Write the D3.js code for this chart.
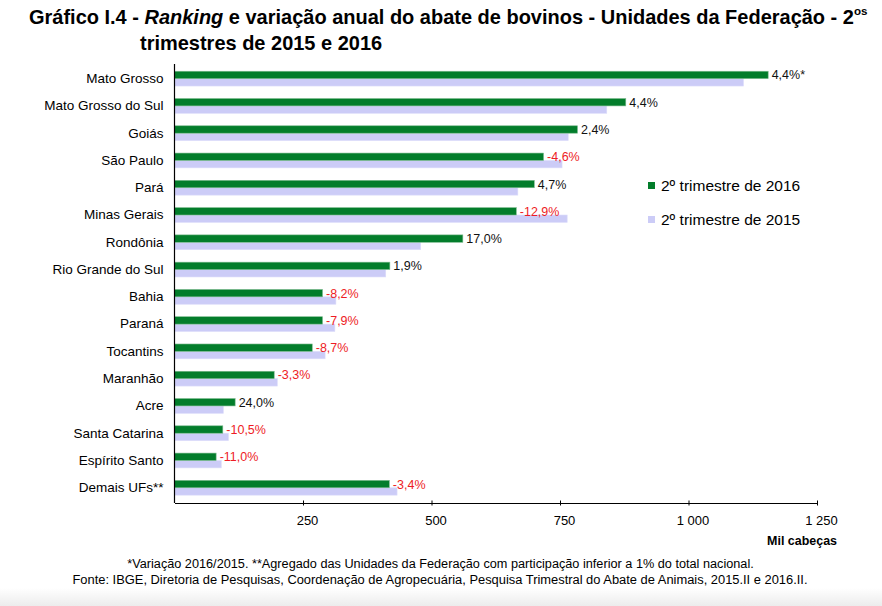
<!DOCTYPE html>
<html><head><meta charset="utf-8">
<script src="https://cdn.jsdelivr.net/npm/d3@7"></script>
<style>
html,body{margin:0;padding:0;background:#fff;}
svg{display:block;}
</style></head>
<body>
<svg id="chart" width="882" height="606"></svg>
<script>
const categories = ["Mato Grosso","Mato Grosso do Sul","Goiás","São Paulo","Pará","Minas Gerais","Rondônia","Rio Grande do Sul","Bahia","Paraná","Tocantins","Maranhão","Acre","Santa Catarina","Espírito Santo","Demais UFs**"];
const values2016 = [1155, 878, 784, 718, 700, 665, 561, 419, 288, 288, 268, 194, 118, 94, 81, 418];
const values2015 = [1107, 841, 766, 754, 668, 764, 479, 411, 314, 312, 293, 200, 95, 105, 91, 433];
const variationLabels = ["4,4%*","4,4%","2,4%","-4,6%","4,7%","-12,9%","17,0%","1,9%","-8,2%","-7,9%","-8,7%","-3,3%","24,0%","-10,5%","-11,0%","-3,4%"];
const tickValues = [250, 500, 750, 1000, 1250];
const tickLabels = ["250", "500", "750", "1 000", "1 250"];
const seriesNames = ["2º trimestre de 2016", "2º trimestre de 2015"];

const GREEN = "#037d2b", LAV = "#ccccf7", RED = "#ee1c25";
const SANS = "'Liberation Sans', Arial, Helvetica, sans-serif";

const svg = d3.select("#chart");

// bottom shade
const defs = svg.append("defs");
const grad = defs.append("linearGradient").attr("id","shade").attr("x1",0).attr("x2",0).attr("y1",0).attr("y2",1);
grad.append("stop").attr("offset","0").attr("stop-color","#ffffff");
grad.append("stop").attr("offset","1").attr("stop-color","#ececec");
svg.append("rect").attr("x",0).attr("y",588).attr("width",882).attr("height",18).attr("fill","url(#shade)");

// text condensed horizontally to a target width
function narrowText(x, y, anchor, size, weight, target){
  const gg = svg.append("g").attr("transform", `translate(${x},${y})`);
  const t = gg.append("text").attr("x",0).attr("y",0).attr("text-anchor", anchor)
    .attr("font-family", SANS).attr("font-weight", weight).attr("font-size", size).attr("fill","#000");
  return {g: gg, t, fit(){ const w = t.node().getBBox().width; const s = target / w;
    gg.attr("transform", `translate(${x},${y}) scale(${s},1)`); return s; }};
}

// Title
const T1 = narrowText(29, 24, "start", 19.5, "bold", 839);
T1.t.append("tspan").text("Gráfico I.4 - ");
T1.t.append("tspan").attr("font-style","italic").text("Ranking");
T1.t.append("tspan").text(" e variação anual do abate de bovinos - Unidades da Federação - 2");
T1.t.append("tspan").attr("font-size","0.58em").attr("dy","-0.8em").text("os");
const sTitle = T1.fit();
svg.append("g").attr("transform", `translate(140,50) scale(${sTitle},1)`)
  .append("text").attr("font-family", SANS).attr("font-weight","bold").attr("font-size", 19.5).attr("fill","#000")
  .text("trimestres de 2015 e 2016");

// Scales
const x = d3.scaleLinear().domain([0, 1250]).range([174.5, 817]);
const y = d3.scaleBand().domain(categories).range([65, 501.4]).paddingInner(0).paddingOuter(0);
const barH = 7.4;
const rows = categories.map((c, i) => ({c, v16: values2016[i], v15: values2015[i], lab: variationLabels[i]}));

// Bars
const g = svg.append("g");
g.selectAll("rect.b15").data(rows).join("rect").attr("class","b15")
  .attr("x", x(0)).attr("y", d => y(d.c) + y.bandwidth()/2)
  .attr("width", d => x(d.v15) - x(0)).attr("height", barH)
  .attr("fill", LAV).attr("stroke","#dcdcfa").attr("stroke-width",0.6);
g.selectAll("rect.b16").data(rows).join("rect").attr("class","b16")
  .attr("x", x(0)).attr("y", d => y(d.c) + y.bandwidth()/2 - barH)
  .attr("width", d => x(d.v16) - x(0)).attr("height", barH)
  .attr("fill", GREEN).attr("stroke","#7dbb8f").attr("stroke-width",0.6);

// Value labels
g.selectAll("text.val").data(rows).join("text").attr("class","val")
  .attr("x", d => x(d.v16) + 3.5).attr("y", d => y(d.c) + y.bandwidth()/2 - barH/2)
  .attr("dy","0.36em")
  .attr("font-family", SANS).attr("font-size", 12.5)
  .attr("fill", d => d.lab.startsWith("-") ? RED : "#111")
  .text(d => d.lab);

// Category labels
g.selectAll("text.cat").data(rows).join("text").attr("class","cat")
  .attr("x", 163.5).attr("y", d => y(d.c) + y.bandwidth()/2)
  .attr("dy","0.32em").attr("text-anchor","end")
  .attr("font-family", SANS).attr("font-size", 13.5).attr("fill","#000")
  .text(d => d.c);

// Axes
const axisY = 503;
const xAxis = d3.axisBottom(x).tickValues(tickValues)
  .tickFormat((d, i) => tickLabels[i]).tickSizeOuter(0).tickSizeInner(3).tickPadding(10);
const ax = svg.append("g").attr("transform", `translate(0,${axisY})`).call(xAxis);
ax.select(".domain").attr("stroke","#000").attr("stroke-width",1.2);
ax.selectAll(".tick line").attr("y1",-2.5).attr("y2",2.5).attr("stroke","#000");
ax.selectAll(".tick text").attr("font-family", SANS).attr("font-size", 13).attr("fill","#000")
  .attr("dx", 4).attr("y", 12.5);
svg.append("line").attr("x1", x(0)).attr("x2", x(0)).attr("y1", 64).attr("y2", axisY)
  .attr("stroke","#000").attr("stroke-width",1.2);

const U = narrowText(837, 545, "end", 13, "bold", 70);
U.t.text("Mil cabeças");
U.fit();

// Legend
const legend = svg.append("g");
[[GREEN, 182], [LAV, 216]].forEach(([col, yy], i) => {
  legend.append("rect").attr("x", 648).attr("y", yy).attr("width", 7).attr("height", 7).attr("fill", col);
  legend.append("text").attr("x", 661).attr("y", yy + 3.5).attr("dy","0.36em")
    .attr("font-family", SANS).attr("font-size", 15.5).attr("fill","#000").text(seriesNames[i]);
});

// Footnotes
const F1 = narrowText(440.5, 568, "middle", 12.5, "normal", 627);
F1.t.text("*Variação 2016/2015. **Agregado das Unidades da Federação com participação inferior a 1% do total nacional.");
F1.fit();
const F2 = narrowText(440, 584, "middle", 12.5, "normal", 736);
F2.t.text("Fonte: IBGE, Diretoria de Pesquisas, Coordenação de Agropecuária, Pesquisa Trimestral do Abate de Animais, 2015.II e 2016.II.");
F2.fit();
</script>
</body></html>
